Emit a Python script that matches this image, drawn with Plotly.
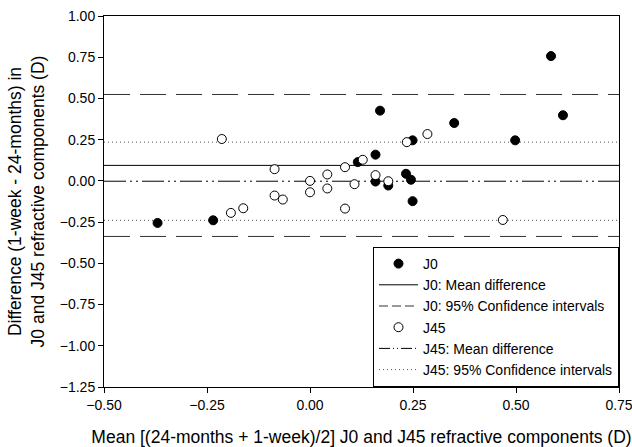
import plotly.graph_objects as go

# J0 data (mean, difference)
j0_x = [-0.370, -0.235, 0.116, 0.585, 0.614, 0.170, 0.350, 0.498, 0.249, 0.159, 0.233, 0.245, 0.159, 0.190, 0.249]
j0_y = [-0.255, -0.239, 0.114, 0.757, 0.398, 0.426, 0.351, 0.246, 0.246, 0.159, 0.043, 0.007, -0.004, -0.028, -0.123]

# J45 data
j45_x = [-0.214, -0.086, -0.086, -0.066, -0.192, -0.162, 0.000, 0.000, 0.042, 0.042, 0.085, 0.085, 0.108,
         0.128, 0.159, 0.190, 0.235, 0.285, 0.468]
j45_y = [0.254, 0.071, -0.089, -0.113, -0.194, -0.166, 0.000, -0.069, 0.039, -0.046, 0.083, -0.168, -0.020,
         0.128, 0.035, -0.002, 0.235, 0.284, -0.237]

j0_mean = 0.094
j0_ci = [0.524, -0.337]
j45_mean = -0.002
j45_ci = [0.235, -0.239]

x_range = [-0.5, 0.75]
y_range = [-1.25, 1.0]
line_span = [-0.5, 0.75]

FONT = "Liberation Sans, Arial, sans-serif"

J0_CI_DASH = "26px,10px"
J45_MEAN_DASH = "22px,4px,2px,4px,2px,4px"
J45_CI_DASH = "1px,3px"

fig = go.Figure()

fig.add_trace(go.Scatter(x=line_span, y=[j0_mean, j0_mean], mode="lines", showlegend=False,
                         line=dict(color="black", width=1)))
fig.add_trace(go.Scatter(x=line_span + [None] + line_span,
                         y=[j0_ci[0], j0_ci[0], None, j0_ci[1], j0_ci[1]], mode="lines", showlegend=False,
                         line=dict(color="#333333", width=1, dash=J0_CI_DASH)))
fig.add_trace(go.Scatter(x=line_span, y=[j45_mean, j45_mean], mode="lines", showlegend=False,
                         line=dict(color="black", width=1, dash=J45_MEAN_DASH)))
fig.add_trace(go.Scatter(x=line_span + [None] + line_span,
                         y=[j45_ci[0], j45_ci[0], None, j45_ci[1], j45_ci[1]], mode="lines", showlegend=False,
                         line=dict(color="#555555", width=1, dash=J45_CI_DASH)))

fig.add_trace(go.Scatter(x=j0_x, y=j0_y, mode="markers", name="J0", legendrank=1,
                         marker=dict(symbol="circle", size=9, color="black",
                                     line=dict(color="black", width=1))))
fig.add_trace(go.Scatter(x=[None], y=[None], mode="lines", name="J0: Mean difference", legendrank=2,
                         line=dict(color="black", width=1)))
fig.add_trace(go.Scatter(x=[None], y=[None], mode="lines", name="J0: 95% Confidence intervals", legendrank=3,
                         line=dict(color="#333333", width=1, dash="9px,4px")))
fig.add_trace(go.Scatter(x=j45_x, y=j45_y, mode="markers", name="J45", legendrank=4,
                         marker=dict(symbol="circle", size=9, color="white",
                                     line=dict(color="black", width=1))))
fig.add_trace(go.Scatter(x=[None], y=[None], mode="lines", name="J45: Mean difference", legendrank=5,
                         line=dict(color="black", width=1, dash="11px,3px,1px,3px,1px,3px")))
fig.add_trace(go.Scatter(x=[None], y=[None], mode="lines", name="J45: 95% Confidence intervals", legendrank=6,
                         line=dict(color="#555555", width=1, dash=J45_CI_DASH)))

axis_common = dict(showgrid=False, zeroline=False, showline=True, linecolor="black", linewidth=1,
                   mirror=True, ticks="outside", ticklen=5, tickcolor="black",
                   tickformat=".2f", dtick=0.25, automargin=False, ticklabeloverflow="allow",
                   tickfont=dict(family=FONT, size=14, color="black"))

fig.update_layout(
    width=632, height=447,
    margin=dict(l=104, r=13, t=16, b=60),
    paper_bgcolor="white", plot_bgcolor="white",
    font=dict(family=FONT, color="black"),
    separators=".-",
    xaxis=dict(range=x_range, tick0=-0.5,
               title=dict(text="Mean [(24-months + 1-week)/2] J0 and J45 refractive components (D)",
                          font=dict(family=FONT, size=17.5), standoff=20),
               **axis_common),
    yaxis=dict(range=y_range, tick0=-1.25,
               title=dict(text="Difference (1-week - 24-months) in<br>J0 and J45 refractive components (D)",
                          font=dict(family=FONT, size=17.5), standoff=10),
               **axis_common),
    legend=dict(x=1, y=0, xanchor="right", yanchor="bottom",
                bordercolor="black", borderwidth=1, bgcolor="white",
                font=dict(family=FONT, size=14), tracegroupgap=0,
                itemwidth=39),
    showlegend=True,
)

fig.write_html("out.html",
               config={"displayModeBar": False, "staticPlot": True},
               post_script="document.body.style.margin='0';document.body.style.overflow='hidden';")
